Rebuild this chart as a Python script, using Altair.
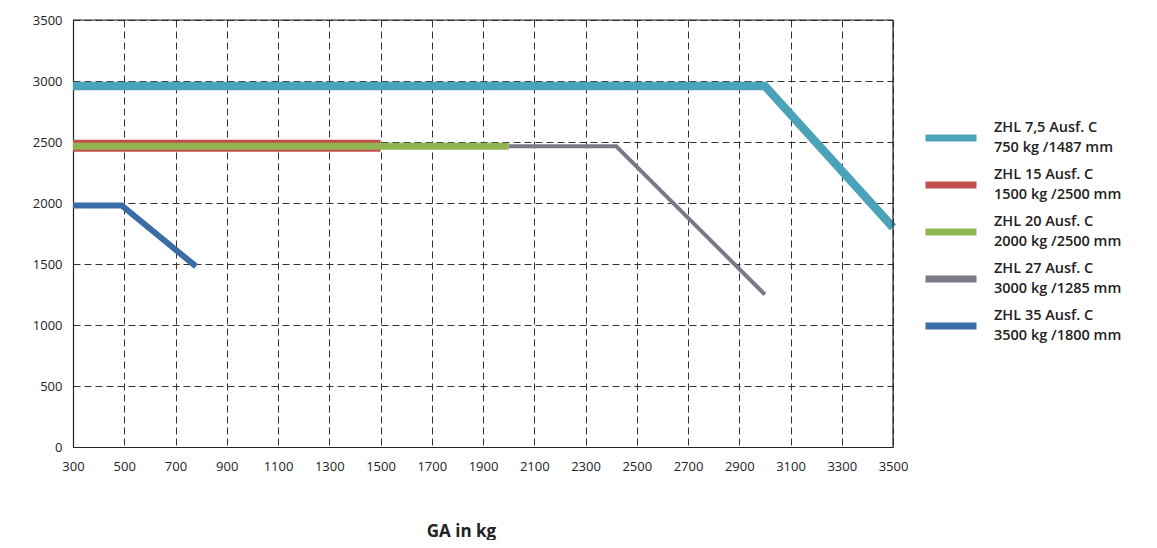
import altair as alt
import pandas as pd

series = [
    "ZHL 7,5 Ausf. C|750 kg /1487 mm",
    "ZHL 15 Ausf. C|1500 kg /2500 mm",
    "ZHL 20 Ausf. C|2000 kg /2500 mm",
    "ZHL 27 Ausf. C|3000 kg /1285 mm",
    "ZHL 35 Ausf. C|3500 kg /1800 mm",
]
colors = ["#4aa3b9", "#c24f4b", "#8fb451", "#7e7886", "#3a6ca6"]
widths = [8.5, 12, 7, 4, 6]

x_cyan = [300, 3000, 3500]
y_cyan = [2960, 2960, 1800]
x_red = [300, 1500]
y_red = [2470, 2470]
x_green = [300, 2000]
y_green = [2465, 2465]
x_gray = [2000, 2420, 3000]
y_gray = [2465, 2465, 1250]
x_blue = [300, 490, 780]
y_blue = [1980, 1980, 1480]

xs = [x_cyan, x_red, x_green, x_gray, x_blue]
ys = [y_cyan, y_red, y_green, y_gray, y_blue]

x_ticks = list(range(300, 3501, 200))
y_ticks = list(range(0, 3501, 500))
x_max = 3500
y_max = 3500

rows = []
for s, xv, yv in zip(series, xs, ys):
    for i, (a, b) in enumerate(zip(xv, yv)):
        rows.append({"series": s, "ga": a, "val": b, "i": i})
df = pd.DataFrame(rows)

font = "Open Sans"
ink = "#222222"

color_scale = alt.Scale(domain=series, range=colors)
x_scale = alt.Scale(domain=[300, x_max], nice=False, zero=False)
y_scale = alt.Scale(domain=[0, y_max], nice=False)

x_axis = alt.Axis(
    values=x_ticks,
    format="d",
    title="GA in kg",
    titleFont=font,
    titleFontSize=17,
    titleFontWeight=700,
    titleColor=ink,
    titlePadding=50,
    titleX=388,
    titleAnchor="middle",
    labelFont=font,
    labelFontSize=13,
    labelColor=ink,
    labelPadding=13,
    ticks=False,
    domain=True,
    domainColor=ink,
    domainWidth=1.2,
    grid=True,
    gridDash=[7, 4],
    gridColor="#333333",
    gridWidth=1,
    labelFlush=False,
)
y_axis = alt.Axis(
    values=y_ticks,
    format="d",
    title=None,
    labelFont=font,
    labelFontSize=13,
    labelColor=ink,
    labelPadding=11,
    ticks=False,
    domain=True,
    domainColor=ink,
    domainWidth=1.2,
    grid=True,
    gridDash=[7, 4],
    gridColor="#333333",
    gridWidth=1,
    labelFlush=False,
)

legend = alt.Legend(
    title=None,
    orient="none",
    legendX=849,
    legendY=89,
    symbolType="stroke",
    symbolSize=2601,
    symbolStrokeWidth=7,
    labelExpr="split(datum.label, '|')",
    labelFont=font,
    labelFontSize=14.5,
    labelFontWeight=600,
    labelColor=ink,
    labelLimit=300,
    labelOffset=14,
    rowPadding=1,
    labelBaseline="line-bottom",
)

layers = []
for idx, (s, w) in enumerate(zip(series, widths)):
    layer = (
        alt.Chart(df)
        .transform_filter(alt.datum.series == s)
        .mark_line(strokeWidth=w, strokeCap="butt", strokeJoin="miter")
        .encode(
            x=alt.X("ga:Q", scale=x_scale, axis=x_axis),
            y=alt.Y("val:Q", scale=y_scale, axis=y_axis),
            color=alt.Color("series:N", scale=color_scale, legend=legend),
            order="i:Q",
        )
    )
    layers.append(layer)

frame_right = alt.Chart().mark_rule(color=ink, strokeWidth=1.2).encode(
    x=alt.X(datum=x_max, scale=x_scale, axis=x_axis)
)
frame_top = alt.Chart().mark_rule(color=ink, strokeWidth=1.2).encode(
    y=alt.Y(datum=y_max, scale=y_scale, axis=y_axis)
)

chart = (
    alt.layer(*layers, frame_right, frame_top)
    .properties(
        width=820,
        height=427,
        autosize=alt.AutoSizeParams(type="none"),
        padding={"left": 65, "top": 12, "right": 256, "bottom": 93},
    )
    .configure_view(stroke=None)
    .configure(background="white", style={"guide-label": {"lineHeight": 20}})
)

chart.save("out.html", embed_options={"renderer": "svg", "actions": False})
